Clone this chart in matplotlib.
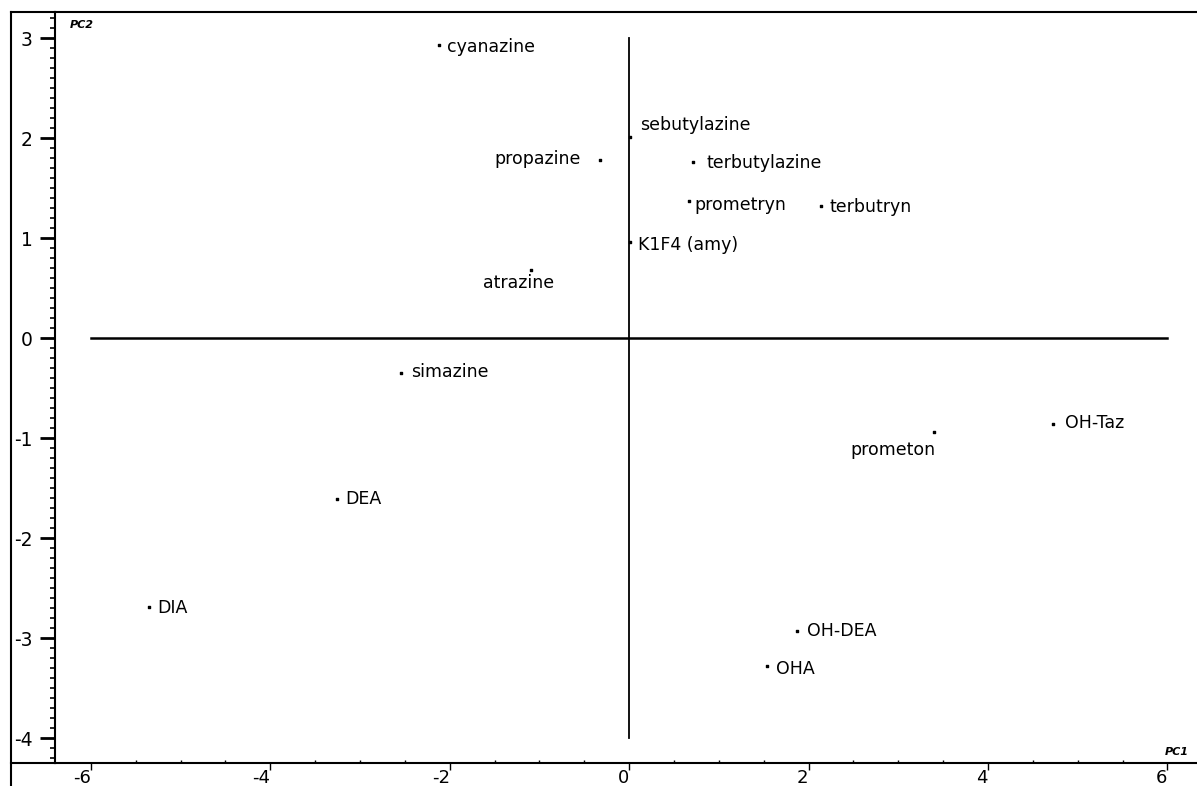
import matplotlib
matplotlib.use('Agg')
import matplotlib.pyplot as plt
from matplotlib.lines import Line2D
from matplotlib.ticker import MultipleLocator

plt.rcParams['axes.unicode_minus'] = False

# Scores (PC1, PC2)
nombres = ['cyanazine', 'sebutylazine', 'propazine', 'terbutylazine', 'prometryn',
           'terbutryn', 'K1F4 (amy)', 'atrazine', 'simazine', 'DEA', 'DIA',
           'prometon', 'OH-Taz', 'OH-DEA', 'OHA']
pc1 = [-2.12, 0.01, -0.32, 0.71, 0.67, 2.14, 0.01, -1.09, -2.54, -3.26, -5.35,
       3.40, 4.73, 1.87, 1.54]
pc2 = [2.93, 2.01, 1.78, 1.76, 1.37, 1.32, 0.96, 0.68, -0.35, -1.61, -2.69,
       -0.94, -0.86, -2.93, -3.28]

# posicion de la etiqueta respecto al punto (offset en px, alineacion)
etiquetas = {
    'cyanazine': (8, -2, 'left', 'center'),
    'sebutylazine': (10, 12, 'left', 'center'),
    'propazine': (-20, 1, 'right', 'center'),
    'terbutylazine': (14, -1, 'left', 'center'),
    'prometryn': (5, -4, 'left', 'center'),
    'terbutryn': (8, -1, 'left', 'center'),
    'K1F4 (amy)': (8, -3, 'left', 'center'),
    'atrazine': (-13, -4, 'center', 'top'),
    'simazine': (10, 1, 'left', 'center'),
    'DEA': (9, 0, 'left', 'center'),
    'DIA': (8, -1, 'left', 'center'),
    'prometon': (1, -18, 'right', 'center'),
    'OH-Taz': (12, 1, 'left', 'center'),
    'OH-DEA': (10, 0, 'left', 'center'),
    'OHA': (9, -3, 'left', 'center'),
}

W, H = 1197, 786
fig = plt.figure(figsize=(W / 100, H / 100), dpi=100)
ax = fig.add_axes([55 / W, 23 / H, 1142 / W, 751 / H])
ax.set_xlim(-6.40, 6.33)
ax.set_ylim(-4.25, 3.26)

# ejes de referencia
ax.plot([-6, 6], [0, 0], color='black', lw=1.8)
ax.plot([0, 0], [-4, 3], color='black', lw=1.3)

ax.scatter(pc1, pc2, marker='s', s=4, color='black', zorder=3)

px = 72 / 100
for n, x, y in zip(nombres, pc1, pc2):
    dx, dy, ha, va = etiquetas[n]
    ax.annotate(n, (x, y), xytext=(dx * px, dy * px), textcoords='offset points',
                ha=ha, va=va, fontsize=12.5, family='DejaVu Sans')

# ticks
ax.set_xticks([-6, -4, -2, 0, 2, 4, 6])
ax.set_yticks([-4, -3, -2, -1, 0, 1, 2, 3])
ax.xaxis.set_minor_locator(MultipleLocator(0.5))
ax.yaxis.set_minor_locator(MultipleLocator(0.1))
ax.tick_params(axis='y', which='major', direction='out', length=11, width=2, labelsize=13.5, pad=5)
ax.tick_params(axis='y', which='minor', direction='out', length=3.5, width=1.2)
ax.tick_params(axis='x', which='major', direction='out', length=5, width=1, labelsize=13, pad=-1)
ax.tick_params(axis='x', which='minor', direction='in', length=2.5, width=1)
for lab in ax.get_xticklabels():
    lab.set_ha('right')

ax.spines['right'].set_visible(False)
for s in ['left', 'top', 'bottom']:
    ax.spines[s].set_linewidth(1.5)

# etiquetas de los ejes
fig.text(70 / W, 1 - 25 / H, 'PC2', fontsize=8, fontweight='bold', style='italic', va='center')
fig.text(1165 / W, 1 - 752 / H, 'PC1', fontsize=8, fontweight='bold', style='italic', va='center')

# marco exterior
fig.add_artist(Line2D([11 / W, 55 / W], [1 - 12 / H, 1 - 12 / H], color='black', lw=1.5))
fig.add_artist(Line2D([11 / W, 11 / W], [0, 1 - 12 / H], color='black', lw=1.5))
fig.add_artist(Line2D([11 / W, 55 / W], [23 / H, 23 / H], color='black', lw=1.5))

fig.savefig('out.png', dpi=100)
